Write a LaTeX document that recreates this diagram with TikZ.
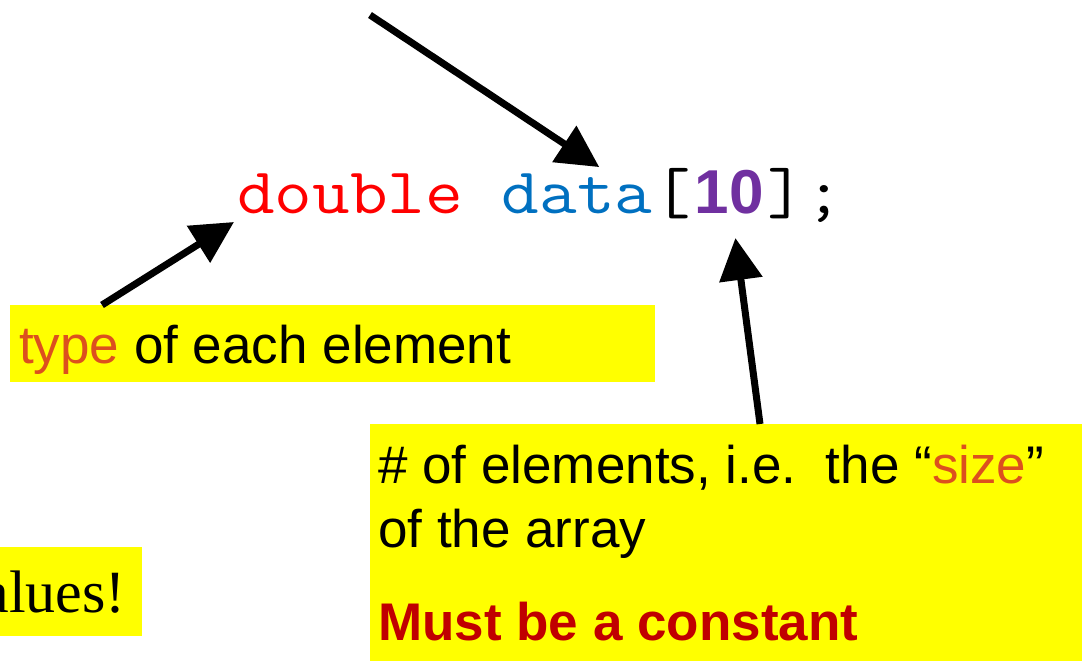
\documentclass[tikz,border=0pt]{standalone}
\usepackage{fontspec}
\usepackage{graphicx}
\setmainfont{Liberation Sans}
\newfontfamily\serifont{Liberation Serif}
\usetikzlibrary{arrows.meta}

\definecolor{kwred}{RGB}{255,0,0}
\definecolor{idblue}{RGB}{0,112,192}
\definecolor{numpurple}{RGB}{112,48,160}
\definecolor{noteorange}{RGB}{220,80,30}
\definecolor{warnred}{RGB}{192,0,0}
\definecolor{hiyellow}{RGB}{255,255,0}

% widen the typewriter glyphs to a Courier-like pitch
\newcommand{\wide}[1]{\scalebox{1.125}[1]{#1}}

\tikzset{
  code/.style={font=\ttfamily\fontsize{65}{78}\selectfont, inner sep=0pt, anchor=base west},
  note/.style={font=\fontsize{53}{64}\selectfont, inner sep=0pt, anchor=base west},
  hilite/.style={fill=hiyellow, inner sep=0pt, anchor=north west},
  ptr/.style={line width=7pt, -{Triangle[length=42pt,width=42pt]}}
}

\begin{document}
\begin{tikzpicture}[x=1pt,y=-1pt]
    \useasboundingbox (0,0) rectangle (1082,661);

    % Highlight boxes
    \node[hilite, minimum width=645pt, minimum height=77pt] (typebox) at (10,305) {};
    \node[hilite, minimum width=712pt, minimum height=237pt] (sizebox) at (370,424) {};
    \node[hilite, minimum width=142pt, minimum height=89pt] (valbox) at (0,547) {};

    % The declaration
    \node[code, text=kwred] (typeword) at (237,213) {\wide{double}};
    \node[code, text=idblue] (nameword) at ([xshift=38.4pt]typeword.base east) {\wide{data}};
    \node[code] (dimword) at (nameword.base east) {\wide{[}\makebox[76.8pt]{\rmfamily\bfseries\fontsize{62}{70}\selectfont\textcolor{numpurple}{10}}\wide{];}};

    % Notes
    \node[note] (typetxt) at (19,363) {\textcolor{noteorange}{type} of each element};
    \node[note] (sizetxt) at (378,483) {\# of elements, i.e.\ \ the “\textcolor{noteorange}{size}”};
    \node[note] (arraytxt) at (378,547) {of the array};
    \node[note, font=\bfseries\fontsize{53}{64}\selectfont, text=warnred] (musttxt) at (378,640) {Must be a constant};
    \node[font=\serifont\fontsize{60}{72}\selectfont, inner sep=0pt, anchor=base east] (valtxt) at (126,612) {alues!};

    % Pointers
    \coordinate (from) at (370,15);
    \draw[ptr] (from) -- ([xshift=22pt,yshift=6pt]nameword.north);
    \draw[ptr] ([xshift=92pt]typebox.north west) -- ([xshift=-3pt,yshift=-9pt]typeword.base west);
    \draw[ptr] ([xshift=390pt]sizebox.north west) -- ([xshift=82.6pt,yshift=-25pt]dimword.base west);

\end{tikzpicture}
\end{document}
